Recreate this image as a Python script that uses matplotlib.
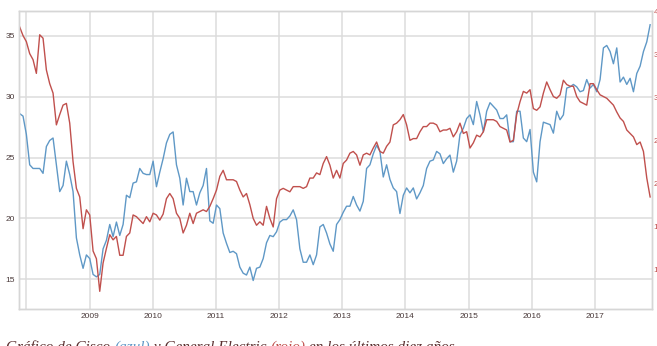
import matplotlib
matplotlib.use('Agg')
import matplotlib.pyplot as plt
import pandas as pd

# precios semanales aprox. (nov 2007 - nov 2017)
start_date = '2007-11-23'
end_date = '2017-11-16'

cisco = [
    28.6, 28.4, 26.9, 24.4, 24.1, 24.1, 24.1, 23.7, 25.9, 26.4, 26.6, 24.4, 22.2, 22.7, 24.7, 23.6,
    22.2, 18.4, 17.0, 15.9, 17.0, 16.7, 15.4, 15.2, 15.4, 17.5, 18.2, 19.5, 18.5, 19.7, 18.6, 19.5,
    21.9, 21.7, 22.9, 23.0, 24.1, 23.7, 23.6, 23.6, 24.7, 22.6, 23.8, 24.9, 26.2, 26.9, 27.1,
    24.4, 23.3, 21.1, 23.3, 22.2, 22.2, 21.1, 22.1, 22.7, 24.1, 19.8, 19.6, 21.1, 20.8, 18.8, 17.95,
    17.2, 17.3, 17.1, 16.0, 15.5, 15.35, 16.0, 14.9, 15.9, 16.0, 16.7, 18.0, 18.6, 18.5, 18.9, 19.7,
    19.9, 19.9, 20.2, 20.7, 19.9, 17.5, 16.4, 16.4, 17.0, 16.2, 17.0, 19.3, 19.5, 18.8, 17.9,
    17.3, 19.5, 19.9, 20.5, 21.0, 21.0, 21.8, 21.1, 20.6, 21.4, 24.1, 24.4, 25.3, 26.0, 25.5, 23.4,
    24.4, 23.2, 22.5, 22.2, 20.4, 21.9, 22.5, 22.1, 22.5, 21.6, 22.1, 22.7, 24.1, 24.7, 24.8, 25.5,
    25.3, 24.5, 24.9, 25.2, 23.8, 24.7, 26.9, 27.4, 28.2, 28.5, 27.7, 29.6, 28.5, 27.1, 28.8,
    29.5, 29.2, 28.9, 28.2, 28.2, 28.5, 26.3, 26.3, 28.8, 28.8, 26.6, 26.3, 27.3, 23.8, 23.0, 26.3,
    27.9, 27.8, 27.7, 27.0, 28.8, 28.1, 28.5, 30.7, 30.8, 31.0, 30.8, 30.4, 30.5, 31.4, 30.7, 31.0,
    30.4, 31.4, 34.0, 34.2, 33.7, 32.7, 34.0, 31.2, 31.6, 31.0, 31.5, 30.4, 31.9, 32.5, 33.7, 34.5,
    35.9,
]

ge = [
    38.2, 37.2, 36.5, 35.1, 34.4, 32.8, 37.3, 36.9, 33.2, 31.6, 30.5, 26.8, 28.0, 29.1, 29.3, 27.0,
    22.5, 19.4, 18.4, 14.7, 16.9, 16.3, 12.1, 11.2, 7.4, 10.7, 12.4, 14.0, 13.4, 13.8, 11.6, 11.6,
    13.8, 14.2, 16.3, 16.1, 15.7, 15.3, 16.1, 15.5, 16.5, 16.3, 15.7, 16.4, 18.2, 18.8, 18.2,
    16.5, 15.9, 14.2, 15.1, 16.5, 15.3, 16.5, 16.7, 16.9, 16.7, 17.3, 18.2, 19.2, 20.8, 21.5, 20.4,
    20.4, 20.4, 20.2, 19.2, 18.4, 18.8, 17.5, 15.9, 15.1, 15.5, 15.1, 17.3, 15.9, 14.9, 18.2, 19.2,
    19.4, 19.2, 19.0, 19.6, 19.6, 19.6, 19.4, 19.6, 20.6, 20.6, 21.2, 21.0, 22.3, 23.1, 22.1,
    20.6, 21.5, 20.6, 22.3, 22.7, 23.5, 23.7, 23.3, 22.1, 23.3, 23.5, 23.3, 24.1, 24.8, 23.7, 23.5,
    24.3, 24.8, 26.8, 27.0, 27.4, 28.0, 26.8, 25.0, 25.2, 25.2, 26.0, 26.6, 26.6, 27.0, 27.0, 26.8,
    26.0, 26.2, 26.2, 26.4, 25.4, 26.0, 27.0, 25.8, 26.0, 24.1, 24.7, 25.6, 25.4, 26.0, 27.4,
    27.4, 27.4, 27.2, 26.6, 26.4, 26.2, 24.8, 25.0, 28.0, 29.5, 30.7, 30.5, 30.9, 28.7, 28.5, 28.9,
    30.5, 31.8, 30.9, 30.1, 29.9, 30.3, 32.0, 31.5, 31.3, 31.3, 30.1, 29.5, 29.3, 29.1, 31.6, 31.6,
    30.9, 30.3, 30.1, 29.9, 29.5, 29.1, 28.3, 27.6, 27.2, 26.2, 25.8, 25.4, 24.5, 24.8, 23.7, 20.6,
    18.4,
]

years = [2008, 2009, 2010, 2011, 2012, 2013, 2014, 2015, 2016, 2017]
year_labels = ['', '2009', '2010', '2011', '2012', '2013', '2014', '2015', '2016', '2017']
left_ticks = [15, 20, 25, 30, 35]
right_ticks = [10, 15, 20, 25, 30, 35, 40]

caption = [
    ('Gráfico de Cisco ', '#5a2f2f'),
    ('(azul)', '#5b95c5'),
    (' y General Electric ', '#5a2f2f'),
    ('(rojo)', '#c0504d'),
    (' en los últimos diez años', '#5a2f2f'),
]

BLUE = '#5f98c6'
RED = '#c0504d'
GRID = '#dcdcdc'
LABEL = '#4a3a3a'

dates = pd.date_range(start_date, end_date, periods=len(cisco))

fig = plt.figure(figsize=(6.57, 3.46), dpi=100)
ax = fig.add_axes([19 / 657, 1 - 309 / 346, (651.5 - 19) / 657, (309 - 11) / 346])
ax2 = ax.twinx()

ax.plot(dates, cisco, color=BLUE, lw=1.0)
ax2.plot(dates, ge, color=RED, lw=1.0)

ax.set_xlim(pd.Timestamp('2007-11-19'), pd.Timestamp('2017-11-24'))
ax.set_ylim(12.56, 37.03)
ax2.set_ylim(5.34, 40.07)

ax.set_xticks([pd.Timestamp(f'{y}-01-01') for y in years])
ax.set_xticklabels(year_labels)
ax.set_yticks(left_ticks)
ax2.set_yticks(right_ticks)

ax.grid(True, color=GRID, lw=1.1)
ax.set_axisbelow(True)
ax2.grid(False)

for a in (ax, ax2):
    for sp in a.spines.values():
        sp.set_color('#d6d6d6')
        sp.set_linewidth(1.0)

ax.tick_params(axis='both', length=0, labelsize=6, labelcolor=LABEL, pad=3)
ax2.tick_params(axis='y', length=0, labelsize=6, labelcolor=RED, pad=1.5)
for lab in ax.get_xticklabels() + ax.get_yticklabels() + ax2.get_yticklabels():
    lab.set_family('Liberation Sans')

# pie de figura en varios colores, cortado por el borde inferior
fig.canvas.draw()
renderer = fig.canvas.get_renderer()
x = 6 / 657
for txt, col in caption:
    t = fig.text(x, -0.0145, txt, color=col, fontsize=11, family='Liberation Serif',
                 style='italic', va='baseline', ha='left')
    bb = t.get_window_extent(renderer)
    x = bb.x1 / fig.bbox.width

fig.savefig('out.png', dpi=100)
